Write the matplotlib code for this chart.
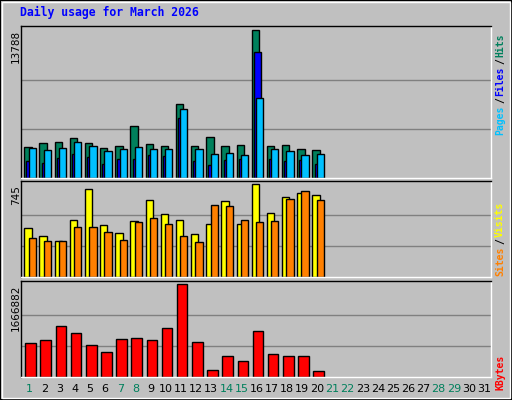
import matplotlib
matplotlib.use("Agg")
import matplotlib.pyplot as plt
from matplotlib.patches import Rectangle

days = list(range(1, 32))
hits = [2915, 3290, 3385, 3760, 3290, 2820, 3010, 4890, 3200, 3010, 6957, 3010, 3855, 3010, 3100, 13788, 3010, 3100, 2727, 2633]
files = [1598, 1410, 1880, 2256, 1974, 1316, 1786, 1786, 2162, 2068, 5641, 1598, 1222, 1692, 1786, 11752, 1786, 1598, 1692, 1316]
pages = [2820, 2633, 2820, 3385, 3010, 2538, 2727, 2915, 2727, 2727, 6487, 2727, 2256, 2350, 2162, 7521, 2727, 2538, 2162, 2256]
visits = [390, 325, 285, 455, 705, 414, 350, 447, 616, 503, 455, 342, 422, 608, 422, 745, 511, 640, 672, 656]
sites = [309, 285, 285, 398, 398, 358, 293, 438, 471, 422, 325, 277, 576, 568, 455, 438, 447, 624, 689, 616]
kbytes = [608350, 663100, 918600, 790850, 571850, 444100, 681350, 699600, 663100, 882100, 1666882, 626600, 133840, 371090, 279840, 827360, 407590, 371090, 371090, 115590]
weekend = [1, 7, 8, 14, 15, 21, 22, 28, 29]

W, H = 512, 400
fig = plt.figure(figsize=(W/100, H/100), dpi=100)
fig.patch.set_facecolor("#C0C0C0")
fig.patches.append(Rectangle((0, 0), 1, 1, transform=fig.transFigure, fill=False, ec="black", lw=1.5))
fig.patches.append(Rectangle((2/W, 2/H), 1-4/W, 1-4/H, transform=fig.transFigure, fill=False, ec="white", lw=1))
mono = "DejaVu Sans Mono"
fig.text(20/W, 1-12/H, "Daily usage for March 2026", color="#0000FF", family=mono, weight="bold", fontsize=8.3, va="center")

def mkax(top, bot):
    ax = fig.add_axes([21/W, 1-bot/H, 470/W, (bot-top)/H])
    ax.set_facecolor("#C0C0C0")
    ax.set_xlim(0, 31)
    ax.set_xticks([]); ax.set_yticks([])
    for s in ax.spines.values():
        s.set_color("black"); s.set_linewidth(1)
    ax.spines["right"].set_color("white"); ax.spines["bottom"].set_color("white")
    return ax

def grid(ax, m):
    ax.set_ylim(0, m*1.03)
    for f in (1/3, 2/3):
        ax.axhline(m*f, color="#808080", lw=1, zorder=0)

n = len(hits)
xs = [d-1 for d in days[:n]]
kw = dict(align="edge", edgecolor="black", linewidth=1, zorder=2)

ax1 = mkax(26, 178)
grid(ax1, max(hits))
ax1.bar([x+0.22 for x in xs], hits, width=0.48, color="#00805C", **kw)
ax1.bar([x+0.36 for x in xs], files, width=0.45, color="#0000FF", **kw)
ax1.bar([x+0.5 for x in xs], pages, width=0.48, color="#00C0FF", **kw)

ax2 = mkax(181, 277)
grid(ax2, max(visits))
ax2.bar([x+0.22 for x in xs], visits, width=0.48, color="#FFFF00", **kw)
ax2.bar([x+0.5 for x in xs], sites, width=0.48, color="#FF8000", **kw)

ax3 = mkax(281, 377)
grid(ax3, max(kbytes))
ax3.bar([x+0.28 for x in xs], kbytes, width=0.7, color="#FF0000", **kw)

for ax, m, top in ((ax1, max(hits), 26), (ax2, max(visits), 181), (ax3, max(kbytes), 281)):
    fig.text(16/W, 1-(top+4)/H, str(m), rotation=90, ha="center", va="top", fontsize=7.5, family="DejaVu Sans")

for d in days:
    fig.text((21 + (d-0.45)*470/31)/W, 1-389/H, str(d), ha="center", va="center", fontsize=8,
             color="#00805C" if d in weekend else "black")

def side(parts, y0):
    y = y0
    for txt, c in parts:
        fig.text(500/W, 1-y/H, txt, rotation=90, color=c, family=mono, fontsize=7, ha="center", va="bottom", weight="bold")
        y -= len(txt)*6.2 + 1

side([("Pages", "#00C0FF"), ("/", "black"), ("Files", "#0000FF"), ("/", "black"), ("Hits", "#00805C")], 135)
side([("Sites", "#FF8000"), ("/", "black"), ("Visits", "#FFFF00")], 276)
side([("KBytes", "#FF0000")], 390)

fig.savefig("out.png", dpi=100, facecolor=fig.get_facecolor())
